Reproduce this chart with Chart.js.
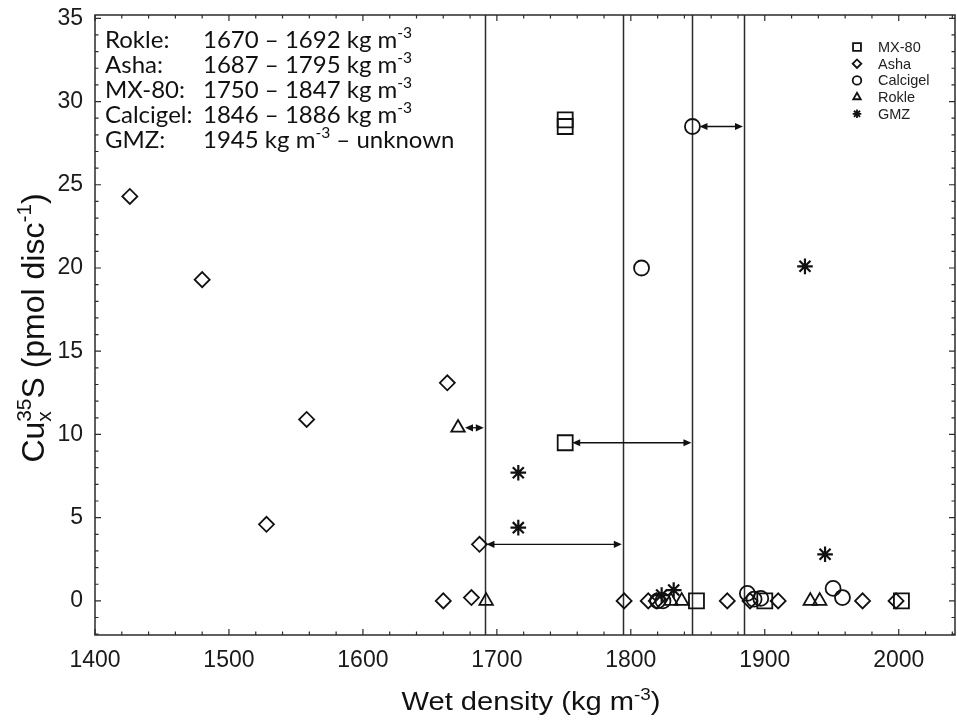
<!DOCTYPE html>
<html><head><meta charset="utf-8">
<script src="https://cdn.jsdelivr.net/npm/chart.js@4/dist/chart.umd.min.js"></script>
<style>html,body{margin:0;padding:0;background:#fff}#wrap{width:957px;height:720px}</style>
</head><body><div id="wrap"><canvas id="c" width="957" height="720"></canvas></div>
<script>
// ---------- data ----------
const xTicks = [1400, 1500, 1600, 1700, 1800, 1900, 2000];
const yTicks = [0, 5, 10, 15, 20, 25, 30, 35];

const seriesNames = ['MX-80', 'Asha', 'Calcigel', 'Rokle', 'GMZ'];
const mx80X = [1751, 1751, 1751, 1849, 1900, 2002];
const mx80Y = [28.9, 28.5, 9.5, 0, 0, 0];
const ashaX = [1426, 1480, 1528, 1558, 1663, 1660, 1681, 1687, 1795, 1813, 1819, 1872, 1889, 1910, 1973, 1998];
const ashaY = [24.3, 19.3, 4.6, 10.9, 13.1, 0, 0.2, 3.4, 0, 0, 0, 0, 0, 0, 0, 0];
const calcX = [1846, 1808, 1820, 1824, 1887, 1892, 1897, 1951, 1958];
const calcY = [28.5, 20.0, 0, 0, 0.45, 0.1, 0.15, 0.75, 0.2];
const rokleX = [1671, 1692, 1830, 1838, 1934, 1941];
const rokleY = [10.4, 0, 0, 0, 0, 0];
const gmzX = [1930, 1716, 1716, 1945, 1823, 1832];
const gmzY = [20.1, 7.7, 4.4, 2.8, 0.35, 0.65];

const boundaryX = [1691, 1794, 1846, 1884.5];
const arrowFrom = [1671, 1687, 1751, 1846];
const arrowTo = [1691, 1794, 1846, 1884.5];
const arrowY = [10.4, 3.4, 9.5, 28.5];

const rangeNames = ['Rokle:', 'Asha:', 'MX-80:', 'Calcigel:', 'GMZ:'];
const rangeText = [
  [{t: '1670 \u2013 1692 kg m'}, {t: '-3', s: 'sup'}],
  [{t: '1687 \u2013 1795 kg m'}, {t: '-3', s: 'sup'}],
  [{t: '1750 \u2013 1847 kg m'}, {t: '-3', s: 'sup'}],
  [{t: '1846 \u2013 1886 kg m'}, {t: '-3', s: 'sup'}],
  [{t: '1945 kg m'}, {t: '-3', s: 'sup'}, {t: ' \u2013 unknown'}]
];
const xTitle = [{t: 'Wet density (kg m'}, {t: '-3', s: 'sup'}, {t: ')'}];
const yTitle = [{t: 'Cu'}, {stack: true, sub: 'x', sup: '35'}, {t: 'S (pmol disc'}, {t: '-1', s: 'sup'}, {t: ')'}];

// ---------- helpers ----------
const AX_FONT = '"Liberation Sans", Arial, sans-serif';
const TXT_FONT = 'Lato, "Open Sans", sans-serif';
function toPts(xs, ys) { return xs.map((x, i) => ({x: x, y: ys[i]})); }
function segW(ctx, s, size, fam) {
  const small = size * 0.65;
  if (s.stack) { ctx.font = small + 'px ' + fam; return Math.max(ctx.measureText(s.sub).width, ctx.measureText(s.sup).width); }
  ctx.font = (s.s ? small : size) + 'px ' + fam;
  return ctx.measureText(s.t).width;
}
function richW(ctx, segs, size, fam) { return segs.reduce((a, s) => a + segW(ctx, s, size, fam), 0); }
function drawRich(ctx, segs, x, y, size, fam) {
  const small = size * 0.65;
  ctx.textBaseline = 'alphabetic'; ctx.textAlign = 'left';
  for (const s of segs) {
    const w = segW(ctx, s, size, fam);
    if (s.stack) {
      ctx.font = small + 'px ' + fam;
      ctx.fillText(s.sup, x, y - size * 0.4);
      ctx.fillText(s.sub, x, y + size * 0.22);
    } else {
      ctx.font = (s.s ? small : size) + 'px ' + fam;
      const dy = s.s === 'sup' ? -size * 0.4 : (s.s === 'sub' ? size * 0.22 : 0);
      ctx.fillText(s.t, x, y + dy);
    }
    x += w;
  }
}
function marker(ctx, style, x, y, r) {
  ctx.beginPath();
  if (style === 'rect') { const h = r * Math.SQRT1_2; ctx.rect(x - h, y - h, 2 * h, 2 * h); }
  else if (style === 'rectRot') { ctx.moveTo(x - r, y); ctx.lineTo(x, y - r); ctx.lineTo(x + r, y); ctx.lineTo(x, y + r); ctx.closePath(); }
  else if (style === 'circle') { ctx.arc(x, y, r, 0, Math.PI * 2); }
  else if (style === 'triangle') {
    for (let k = 0; k < 3; k++) { const a = -Math.PI / 2 + k * 2 * Math.PI / 3; const px = x + r * Math.cos(a), py = y + r * Math.sin(a); k ? ctx.lineTo(px, py) : ctx.moveTo(px, py); }
    ctx.closePath();
  } else if (style === 'star') {
    for (let k = 0; k < 4; k++) { const a = k * Math.PI / 4; ctx.moveTo(x - r * Math.cos(a), y - r * Math.sin(a)); ctx.lineTo(x + r * Math.cos(a), y + r * Math.sin(a)); }
  }
  ctx.stroke();
}
function arrowHead(ctx, x, y, dir) {
  const L = 8, W = 3.6;
  ctx.beginPath(); ctx.moveTo(x, y); ctx.lineTo(x - dir * L, y - W); ctx.lineTo(x - dir * L, y + W); ctx.closePath(); ctx.fill();
}

const styles = ['rect', 'rectRot', 'circle', 'triangle', 'star'];

const decor = {
  id: 'decor',
  beforeDatasetsDraw(chart) {
    const ctx = chart.ctx, a = chart.chartArea, xs = chart.scales.x, ys = chart.scales.y;
    ctx.save();
    ctx.strokeStyle = '#2b2b2b'; ctx.lineWidth = 1.5;
    boundaryX.forEach(v => { const px = Math.round(xs.getPixelForValue(v)) + 0.5; ctx.beginPath(); ctx.moveTo(px, a.top); ctx.lineTo(px, a.bottom); ctx.stroke(); });
    ctx.strokeStyle = '#111'; ctx.fillStyle = '#111'; ctx.lineWidth = 1.3;
    arrowFrom.forEach((v, i) => {
      const x1 = xs.getPixelForValue(v) + 7, x2 = xs.getPixelForValue(arrowTo[i]) - 1, py = ys.getPixelForValue(arrowY[i]);
      ctx.beginPath(); ctx.moveTo(x1 + 4, py); ctx.lineTo(x2 - 4, py); ctx.stroke();
      arrowHead(ctx, x1, py, -1); arrowHead(ctx, x2, py, 1);
    });
    ctx.fillStyle = '#111';
    rangeNames.forEach((n, i) => {
      const base = 48 + 25 * i;
      drawRich(ctx, [{t: n}], 105, base, 24, TXT_FONT);
      drawRich(ctx, rangeText[i], 203, base, 24, TXT_FONT);
    });
    ctx.restore();
  },
  afterDraw(chart) {
    const ctx = chart.ctx, a = chart.chartArea, xs = chart.scales.x, ys = chart.scales.y;
    ctx.save();
    ctx.strokeStyle = '#2b2b2b'; ctx.lineWidth = 1.5;
    ctx.strokeRect(a.left, a.top, a.right - a.left, a.bottom - a.top);
    ctx.lineWidth = 1.2;
    ctx.beginPath();
    for (let v = 1400; v <= 2040; v += 20) {
      const px = xs.getPixelForValue(v), L = v % 100 === 0 ? 6 : 3.5;
      ctx.moveTo(px, a.bottom); ctx.lineTo(px, a.bottom - L);
      ctx.moveTo(px, a.top); ctx.lineTo(px, a.top + L);
    }
    for (let v = -2; v <= 35; v += 1) {
      const py = ys.getPixelForValue(v), L = v % 5 === 0 ? 6 : 3.5;
      ctx.moveTo(a.left, py); ctx.lineTo(a.left + L, py);
      ctx.moveTo(a.right, py); ctx.lineTo(a.right - L, py);
    }
    ctx.stroke();
    // legend
    ctx.strokeStyle = '#111'; ctx.lineWidth = 1.8; ctx.fillStyle = '#222';
    seriesNames.forEach((n, i) => {
      const cy = 47 + 16.7 * i;
      marker(ctx, styles[i], 857, cy, styles[i] === 'rect' ? 5.6 : 4.3);
      ctx.font = '14.5px ' + AX_FONT; ctx.textBaseline = 'middle'; ctx.textAlign = 'left';
      ctx.fillText(n, 878, cy + 1);
    });
    // axis titles
    ctx.fillStyle = '#111';
    ctx.save();
    const xw = richW(ctx, xTitle, 26, AX_FONT);
    ctx.translate(531, 710); ctx.scale(1.12, 1);
    drawRich(ctx, xTitle, -xw / 2, 0, 26, AX_FONT);
    ctx.restore();
    ctx.save();
    const yw = richW(ctx, yTitle, 32, AX_FONT);
    ctx.translate(44, 328); ctx.rotate(-Math.PI / 2);
    drawRich(ctx, yTitle, -yw / 2, 0, 32, AX_FONT);
    ctx.restore();
    ctx.restore();
  }
};

function ds(label, xs, ys, style, r, bw) {
  return {label: label, data: toPts(xs, ys), pointStyle: style, pointRadius: r, pointHoverRadius: r,
    borderColor: '#111', backgroundColor: 'rgba(0,0,0,0)', pointBorderWidth: bw, borderWidth: bw, showLine: false};
}

new Chart(document.getElementById('c'), {
  type: 'scatter',
  data: {
    datasets: [
      ds(seriesNames[0], mx80X, mx80Y, 'rect', 10.6, 1.8),
      ds(seriesNames[1], ashaX, ashaY, 'rectRot', 7.5, 1.8),
      ds(seriesNames[2], calcX, calcY, 'circle', 7.5, 1.8),
      ds(seriesNames[3], rokleX, rokleY, 'triangle', 7.8, 1.8),
      ds(seriesNames[4], gmzX, gmzY, 'star', 7.8, 2.2)
    ]
  },
  options: {
    responsive: false, animation: false, devicePixelRatio: 1,
    layout: {autoPadding: false, padding: {left: 0, right: 2, top: 15, bottom: 0}},
    plugins: {legend: {display: false}, tooltip: {enabled: false}},
    scales: {
      x: {
        type: 'linear', min: 1400, max: 2042,
        grid: {display: false, drawTicks: false}, border: {display: false},
        afterBuildTicks: s => { s.ticks = xTicks.map(v => ({value: v})); },
        afterFit: s => { s.height = 85; s.paddingLeft = 0; s.paddingRight = 0; },
        ticks: {font: {family: AX_FONT, size: 23}, color: '#1a1a1a', padding: 12, maxRotation: 0, autoSkip: false,
          callback: v => String(v)}
      },
      y: {
        type: 'linear', min: -2.05, max: 35.2,
        grid: {display: false, drawTicks: false}, border: {display: false},
        afterBuildTicks: s => { s.ticks = yTicks.map(v => ({value: v})); },
        afterFit: s => { s.width = 95; s.paddingTop = 0; s.paddingBottom = 0; },
        ticks: {font: {family: AX_FONT, size: 23}, color: '#1a1a1a', padding: 12, autoSkip: false,
          callback: v => String(v)}
      }
    }
  },
  plugins: [decor]
});
</script>
</body></html>
